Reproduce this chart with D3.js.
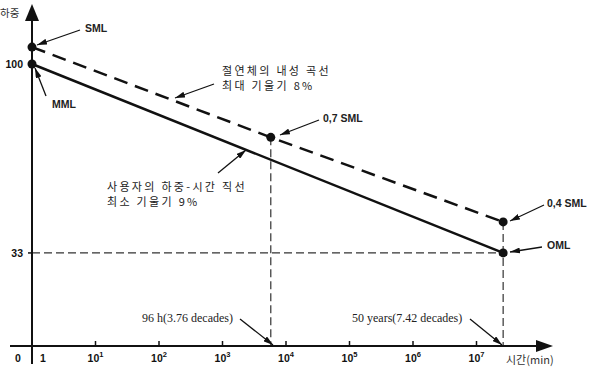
<!DOCTYPE html>
<html>
<head>
<meta charset="utf-8">
<script src="https://cdn.jsdelivr.net/npm/d3@7"></script>
<style>
  body { margin: 0; background: #fff; }
  svg { display: block; }
</style>
</head>
<body>
<div id="chart"></div>
<script>
var w = 596;
var h = 373;

// data
var decades = [0, 1, 2, 3, 4, 5, 6, 7];
var yTicks = [100, 33];
var smlTimes = [1, 5760, 26280000];   // 1 min, 96 h, 50 years (in min)
var smlLoads = [106, 74, 44];
var mmlTimes = [1, 26280000];
var mmlLoads = [100, 33];

var xScale = d3.scaleLog().domain([1, 1e7]).range([32, 476.5]);
var yScale = d3.scaleLinear().domain([0, 100]).range([346, 64]);

var svg = d3.select("#chart")
            .append("svg")
            .attr("width", w)
            .attr("height", h);

var defs = svg.append("defs");
defs.append("marker")
    .attr("id", "ah")
    .attr("viewBox", "0 0 10 6")
    .attr("refX", 10).attr("refY", 3)
    .attr("markerWidth", 10).attr("markerHeight", 6)
    .attr("markerUnits", "userSpaceOnUse")
    .attr("orient", "auto")
    .append("path").attr("d", "M0,0 L10,3 L0,6 Z").attr("fill", "#111");

var x0 = xScale(1), yAx = yScale(0);

// guide lines
var guide = svg.append("g").attr("stroke", "#333").attr("stroke-width", 1.2)
    .attr("stroke-dasharray", "8,4").attr("fill", "none");
guide.append("line")
    .attr("x1", x0).attr("x2", xScale(mmlTimes[1]))
    .attr("y1", yScale(33)).attr("y2", yScale(33));
guide.append("line")
    .attr("x1", xScale(smlTimes[1])).attr("x2", xScale(smlTimes[1]))
    .attr("y1", yScale(smlLoads[1])).attr("y2", yAx);
guide.append("line")
    .attr("x1", xScale(smlTimes[2])).attr("x2", xScale(smlTimes[2]))
    .attr("y1", yScale(smlLoads[2])).attr("y2", yAx);

// axes
svg.append("line").attr("x1", x0).attr("x2", x0).attr("y1", 364).attr("y2", 14)
    .attr("stroke", "#111").attr("stroke-width", 2);
svg.append("path").attr("d", "M" + x0 + ",4 L" + (x0 + 7) + ",21 L" + (x0 - 7) + ",21 Z").attr("fill", "#111");
svg.append("line").attr("x1", 10).attr("x2", 542).attr("y1", yAx).attr("y2", yAx)
    .attr("stroke", "#111").attr("stroke-width", 2);
svg.append("path").attr("d", "M553," + yAx + " L536," + (yAx - 6) + " L536," + (yAx + 6) + " Z").attr("fill", "#111");

// x ticks
svg.selectAll(".xt").data(decades.slice(1)).enter().append("line")
    .attr("x1", function(d) { return xScale(Math.pow(10, d)); })
    .attr("x2", function(d) { return xScale(Math.pow(10, d)); })
    .attr("y1", yAx - 5).attr("y2", yAx)
    .attr("stroke", "#111").attr("stroke-width", 1.5);

var tl = svg.selectAll(".xl").data(decades).enter().append("text")
    .attr("x", function(d) { return xScale(Math.pow(10, d)) + (d == 0 ? 8 : 0); })
    .attr("y", 362)
    .attr("text-anchor", function(d) { return d == 0 ? "start" : "middle"; })
    .attr("font-family", "Liberation Sans, Arial, sans-serif")
    .attr("font-weight", "bold").attr("font-size", "10.5px").attr("fill", "#111");
tl.append("tspan").text(function(d) { return d == 0 ? "1" : "10"; });
tl.filter(function(d) { return d > 0; }).append("tspan")
    .attr("dy", -5).attr("font-size", "7.5px").text(function(d) { return d; });

svg.append("text").attr("x", 18).attr("y", 362).attr("text-anchor", "middle")
    .attr("font-family", "Liberation Sans, Arial, sans-serif").attr("font-weight", "bold")
    .attr("font-size", "10.5px").attr("fill", "#111").text("0");

// y ticks
svg.selectAll(".yt").data(yTicks).enter().append("line")
    .attr("x1", x0 - 4).attr("x2", x0)
    .attr("y1", function(d) { return yScale(d); }).attr("y2", function(d) { return yScale(d); })
    .attr("stroke", "#111").attr("stroke-width", 1.5);
svg.selectAll(".yl").data(yTicks).enter().append("text")
    .attr("x", 23).attr("y", function(d) { return yScale(d) + 4; })
    .attr("text-anchor", "end")
    .attr("font-family", "Liberation Sans, Arial, sans-serif").attr("font-weight", "bold")
    .attr("font-size", "10.5px").attr("fill", "#111").text(function(d) { return d; });

// axis titles
svg.append("text").attr("x", 0).attr("y", 17)
    .attr("font-family", "Noto Sans CJK KR").attr("font-size", "10.5px").attr("fill", "#333").text("하중");
svg.append("text").attr("x", 506).attr("y", 364)
    .attr("font-family", "Noto Sans CJK KR").attr("font-size", "11px").attr("fill", "#333")
    .text("시간(min)");

// curves
var line = d3.line().x(function(d) { return xScale(d[0]); }).y(function(d) { return yScale(d[1]); });
svg.append("path").datum(d3.zip(smlTimes, smlLoads)).attr("d", line)
    .attr("fill", "none").attr("stroke", "#111").attr("stroke-width", 2.5)
    .attr("stroke-dasharray", "14,8");
svg.append("path").datum(d3.zip(mmlTimes, mmlLoads)).attr("d", line)
    .attr("fill", "none").attr("stroke", "#111").attr("stroke-width", 2.5);

// points
var pts = d3.zip(smlTimes, smlLoads).concat(d3.zip(mmlTimes, mmlLoads));
svg.selectAll("circle").data(pts).enter().append("circle")
    .attr("cx", function(d) { return xScale(d[0]); })
    .attr("cy", function(d) { return yScale(d[1]); })
    .attr("r", 4.5).attr("fill", "#111");

// annotations
function arrow(x1, y1, x2, y2) {
    svg.append("line").attr("x1", x1).attr("y1", y1).attr("x2", x2).attr("y2", y2)
        .attr("stroke", "#111").attr("stroke-width", 1.3).attr("marker-end", "url(#ah)");
}
function label(x, y, t, font, size, weight, spacing) {
    svg.append("text").attr("x", x).attr("y", y)
        .attr("font-family", font).attr("font-size", size).attr("font-weight", weight || "normal")
        .attr("letter-spacing", spacing || 0)
        .attr("fill", "#222").text(t);
}
var sans = "Liberation Sans, Arial, sans-serif";
var kr = "Noto Sans CJK KR";
var serif = "Liberation Serif, Times New Roman, serif";

label(85, 32, "SML", sans, "10.5px", "bold");
arrow(80, 30, 37, 45);
label(52, 108, "MML", sans, "10.5px", "bold");
arrow(46, 96, 35, 68);
label(222, 75, "절연체의 내성 곡선", kr, "11px", "normal", 2.3);
label(222, 90, "최대 기울기 8%", kr, "11px", "normal", 2.3);
arrow(214, 84, 175, 98);
label(323, 122, "0,7 SML", sans, "10.5px", "bold");
arrow(319, 120, 280, 135);
label(107, 191, "사용자의 하중-시간 직선", kr, "11px", "normal", 2.3);
label(107, 206, "최소 기울기 9%", kr, "11px", "normal", 2.3);
arrow(218, 173, 246, 150);
label(547, 207, "0,4 SML", sans, "10.5px", "bold");
arrow(544, 205, 510, 221);
label(547, 249, "OML", sans, "10.5px", "bold");
arrow(542, 247, 510, 252);
label(142, 322, "96 h(3.76 decades)", serif, "12px");
arrow(240, 319, 273, 345);
label(352, 322, "50 years(7.42 decades)", serif, "12px");
arrow(470, 319, 502, 345);
</script>
</body>
</html>
